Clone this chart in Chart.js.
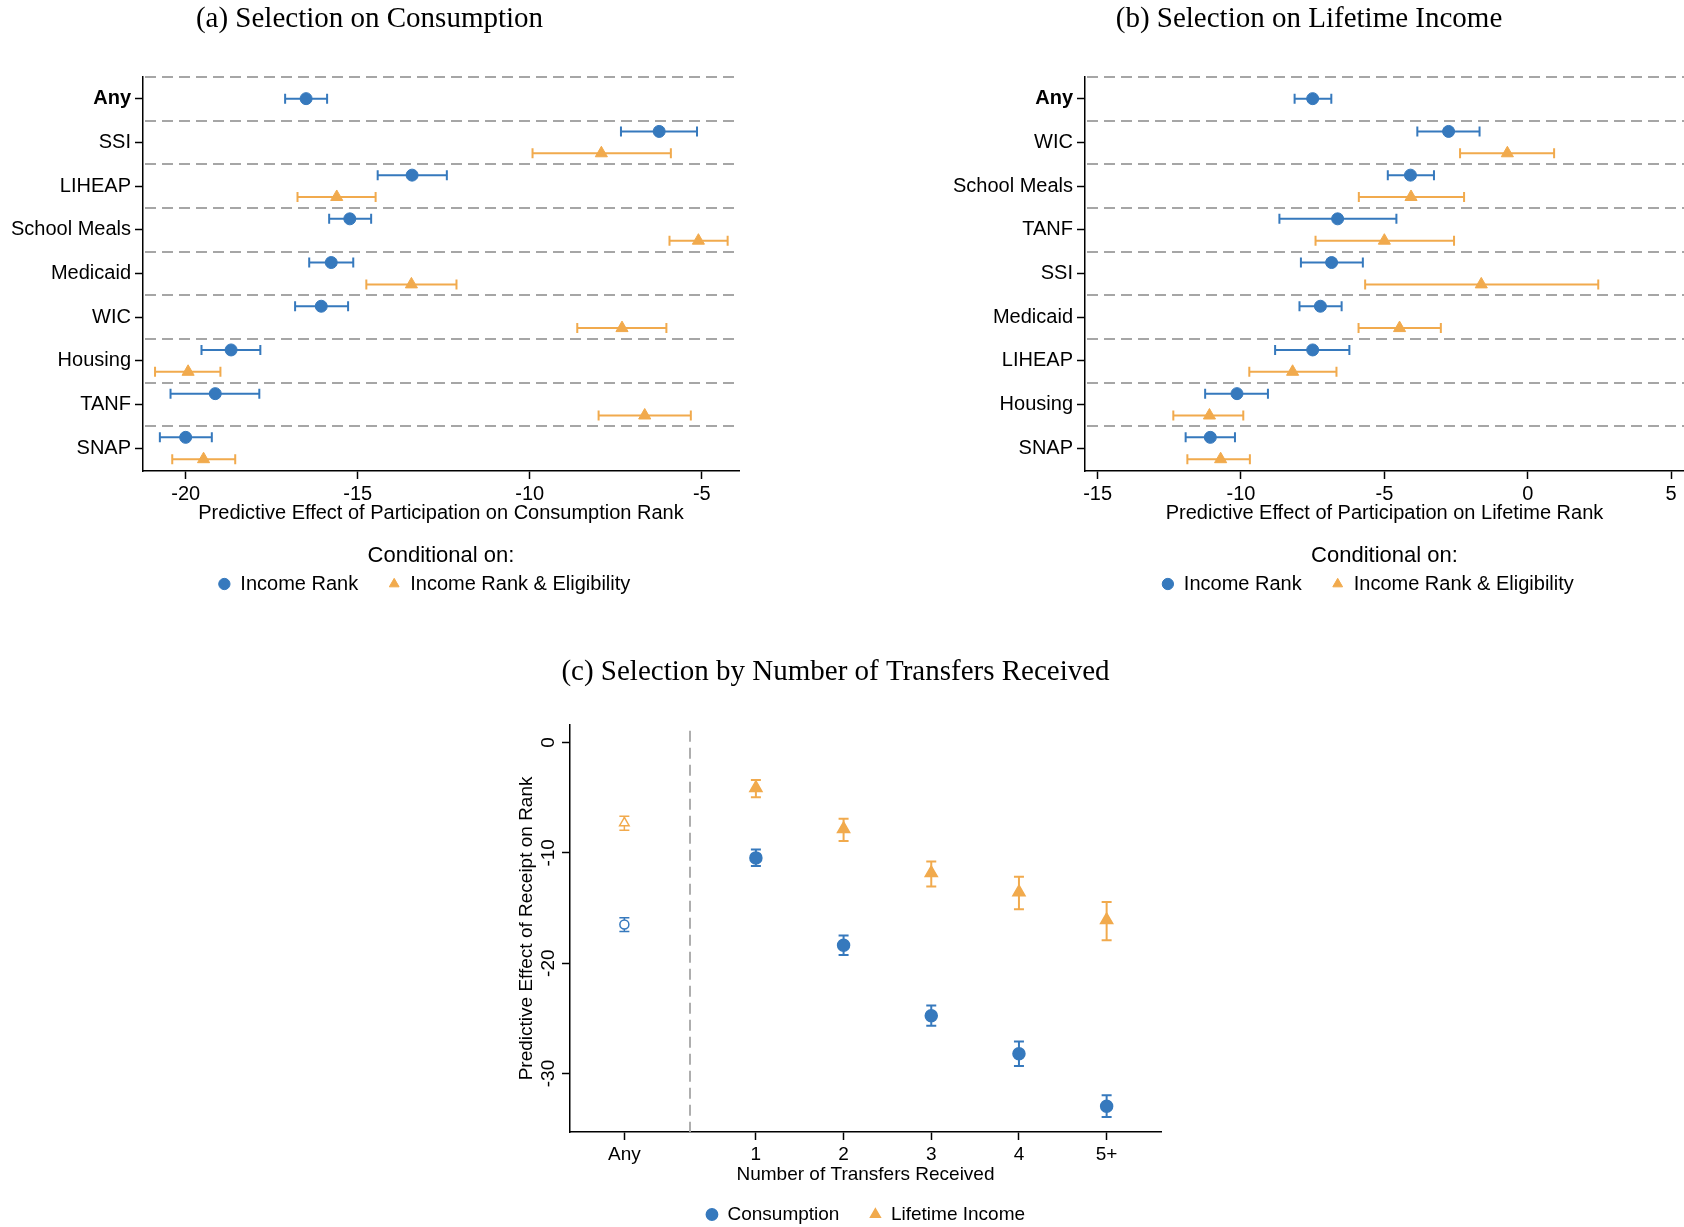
<!DOCTYPE html>
<html>
<head>
<meta charset="utf-8">
<script src="https://cdn.jsdelivr.net/npm/chart.js@4.4.0/dist/chart.umd.min.js"></script>
<style>
  body { margin: 0; background: #fff; width: 1684px; height: 1227px; position: relative; overflow: hidden; }
  canvas { position: absolute; }
</style>
</head>
<body>
<canvas id="chartA" width="745" height="612" style="left:0px;top:0px"></canvas>
<canvas id="chartB" width="750" height="612" style="left:934px;top:0px"></canvas>
<canvas id="chartC" width="662" height="590" style="left:510px;top:650px"></canvas>
<script>
// panel (a): selection on consumption
const catsA = ['Any', 'SSI', 'LIHEAP', 'School Meals', 'Medicaid', 'WIC', 'Housing', 'TANF', 'SNAP'];
const incA   = [-16.5, -6.24, -13.42, -15.23, -15.77, -16.06, -18.68, -19.14, -20.0];
const incALo = [-17.11, -7.35, -14.42, -15.83, -16.41, -16.82, -19.54, -20.44, -20.75];
const incAHi = [-15.89, -5.14, -12.41, -14.61, -15.13, -15.28, -17.83, -17.86, -19.24];
const eligA   = [null, -7.92, -15.61, -5.1, -13.44, -7.32, -19.93, -6.66, -19.48];
const eligALo = [null, -9.92, -16.75, -5.94, -14.75, -8.62, -20.89, -8.0, -20.39];
const eligAHi = [null, -5.9, -14.48, -4.25, -12.13, -6.03, -18.99, -5.32, -18.56];
const xTicksA = [-20, -15, -10, -5];

// panel (b): selection on lifetime income
const catsB = ['Any', 'WIC', 'School Meals', 'TANF', 'SSI', 'Medicaid', 'LIHEAP', 'Housing', 'SNAP'];
const incB   = [-7.5, -2.76, -4.09, -6.63, -6.84, -7.23, -7.5, -10.14, -11.07];
const incBLo = [-8.13, -3.85, -4.88, -8.66, -7.91, -7.96, -8.81, -11.25, -11.93];
const incBHi = [-6.85, -1.68, -3.27, -4.58, -5.75, -6.49, -6.22, -9.06, -10.21];
const eligB   = [null, -0.71, -4.07, -5.0, -1.62, -4.47, -8.2, -11.1, -10.71];
const eligBLo = [null, -2.36, -5.89, -7.4, -5.67, -5.9, -9.71, -12.36, -11.87];
const eligBHi = [null, 0.92, -2.22, -2.57, 2.46, -3.03, -6.67, -9.92, -9.69];
const xTicksB = [-15, -10, -5, 0, 5];

// panel (c): number of transfers received
const catsC = ['Any', '1', '2', '3', '4', '5+'];
const consC   = [-16.49, -10.46, -18.38, -24.76, -28.2, -32.96];
const consCLo = [-17.13, -11.19, -19.27, -25.67, -29.33, -33.93];
const consCHi = [-15.88, -9.7, -17.5, -23.84, -27.1, -31.98];
const lifeC   = [-7.29, -4.12, -7.84, -11.83, -13.57, -16.1];
const lifeCLo = [-7.96, -4.97, -8.93, -13.05, -15.12, -17.93];
const lifeCHi = [-6.68, -3.41, -6.92, -10.79, -12.16, -14.45];
const yTicksC = [0, -10, -20, -30];

const blue = '#3679bd';
const orange = '#f1aa4d';
const dashGray = '#a6a6a6';
const sans = "'Liberation Sans', Arial, Helvetica, sans-serif";
const serif = "'Liberation Serif', 'Times New Roman', serif";

// row position of each category, top row first
const rowOf = (cats, i) => cats.length - 1 - i;

// build horizontal points: shift up/down a bit when a row has two series
function rowPoints(cats, vals, lo, hi, other, shift) {
  const pts = [];
  vals.forEach((v, i) => {
    if (v == null) return;
    const both = other[i] != null;
    pts.push({ x: v, y: rowOf(cats, i) + (both ? shift : 0), lo: lo[i], hi: hi[i] });
  });
  return pts;
}

// error bars, drawn under the markers
const errorBars = {
  id: 'errorBars',
  beforeDatasetsDraw(chart, args, opts) {
    const ctx = chart.ctx;
    const xs = chart.scales.x, ys = chart.scales.y;
    const cap = 5;
    chart.data.datasets.forEach(ds => {
      ctx.save();
      ctx.strokeStyle = ds.borderColor;
      ds.data.forEach((p, i) => {
        ctx.lineWidth = (opts.thinFirst && i === 0) ? 1.5 : 2;
        ctx.beginPath();
        if (opts.vertical) {
          const x = xs.getPixelForValue(p.x);
          const y1 = ys.getPixelForValue(p.lo), y2 = ys.getPixelForValue(p.hi);
          ctx.moveTo(x, y1); ctx.lineTo(x, y2);
          ctx.moveTo(x - cap, y1); ctx.lineTo(x + cap, y1);
          ctx.moveTo(x - cap, y2); ctx.lineTo(x + cap, y2);
        } else {
          const y = ys.getPixelForValue(p.y);
          const x1 = xs.getPixelForValue(p.lo), x2 = xs.getPixelForValue(p.hi);
          ctx.moveTo(x1, y); ctx.lineTo(x2, y);
          ctx.moveTo(x1, y - cap); ctx.lineTo(x1, y + cap);
          ctx.moveTo(x2, y - cap); ctx.lineTo(x2, y + cap);
        }
        ctx.stroke();
      });
      ctx.restore();
    });
  }
};

// dashed separators between program rows
const rowLines = {
  id: 'rowLines',
  beforeDatasetsDraw(chart, args, opts) {
    if (!opts.rows) return;
    const {ctx, chartArea} = chart;
    const ys = chart.scales.y;
    ctx.save();
    ctx.strokeStyle = dashGray;
    ctx.lineWidth = 1.8;
    ctx.setLineDash([11, 6]);
    for (let k = 0; k < opts.rows; k++) {
      const y = Math.round(ys.getPixelForValue(k + 0.5));
      ctx.beginPath();
      ctx.moveTo(chartArea.left + 2, y);
      ctx.lineTo(chartArea.right, y);
      ctx.stroke();
    }
    ctx.restore();
  }
};

// trailing room on the last key so the keys sit a bit left of the title, as in the original
const keyLabels = chart => Chart.defaults.plugins.legend.labels.generateLabels(chart).map((item, i, all) => {
  const ds = chart.data.datasets[i];
  item.fillStyle = ds.backgroundColor;
  item.strokeStyle = ds.borderColor;
  if (chart.options.plugins.legend.tailSpace && i === all.length - 1) item.text += '      ';
  return item;
});

function rowChart(id, title, cats, inc, incLo, incHi, elig, eligLo, eligHi, xTicks, xMin, xMax, xTitle, yWidth, padRight) {
  new Chart(document.getElementById(id), {
    type: 'scatter',
    data: {
      datasets: [
        {
          label: 'Income Rank',
          data: rowPoints(cats, inc, incLo, incHi, elig, 0.25),
          pointStyle: 'circle', pointRadius: 6,
          backgroundColor: blue, borderColor: blue, pointBorderWidth: 1
        },
        {
          label: 'Income Rank & Eligibility',
          data: rowPoints(cats, elig, eligLo, eligHi, inc, -0.25),
          pointStyle: 'triangle', pointRadius: 7,
          backgroundColor: orange, borderColor: orange, pointBorderWidth: 1
        }
      ]
    },
    options: {
      responsive: false,
      animation: false,
      events: [],
      layout: { autoPadding: false, padding: { left: 0, right: padRight, top: 0, bottom: 8 } },
      scales: {
        x: {
          type: 'linear', min: xMin, max: xMax,
          afterBuildTicks: s => { s.ticks = xTicks.map(v => ({ value: v })); },
          afterFit: s => { s.height = 54; },
          ticks: { color: '#000', font: { family: sans, size: 20 }, padding: 3, callback: v => String(v) },
          grid: { drawOnChartArea: false, tickLength: 8, tickColor: '#000', tickWidth: 1.5 },
          border: { color: '#000', width: 1.5 },
          title: { display: true, text: xTitle, color: '#000', font: { family: sans, size: 20 }, padding: { top: 0, bottom: 0 } }
        },
        y: {
          type: 'linear', min: -0.52, max: cats.length - 0.5,
          afterBuildTicks: s => { s.ticks = cats.map((c, i) => ({ value: rowOf(cats, i) })); },
          afterFit: s => { s.width = yWidth; },
          ticks: {
            color: '#000', padding: 4,
            font: c => ({ family: sans, size: 20, weight: (c.tick && c.tick.value === cats.length - 1) ? 'bold' : 'normal' }),
            callback: v => cats[rowOf(cats, v)]
          },
          grid: { drawOnChartArea: false, tickLength: 8, tickColor: '#000', tickWidth: 1.5 },
          border: { color: '#000', width: 1.5 }
        }
      },
      plugins: {
        title: { display: true, text: title, color: '#000', font: { family: serif, size: 29, weight: 'normal' }, padding: { top: 2, bottom: 40 } },
        legend: {
          position: 'bottom', fullSize: false, tailSpace: true,
          title: { display: true, text: 'Conditional on:', color: '#000', font: { family: sans, size: 22 }, padding: { top: 20, bottom: -27.4 } },
          labels: { usePointStyle: true, boxHeight: 8, boxWidth: 12, padding: 30, color: '#000', font: { family: sans, size: 20 }, generateLabels: keyLabels }
        },
        tooltip: { enabled: false },
        rowLines: { rows: cats.length },
        errorBars: { vertical: false }
      }
    },
    plugins: [rowLines, errorBars]
  });
}

rowChart('chartA', '(a) Selection on Consumption', catsA, incA, incALo, incAHi, eligA, eligALo, eligAHi,
  xTicksA, -21.24, -3.92, 'Predictive Effect of Participation on Consumption Rank', 143, 6);
rowChart('chartB', '(b) Selection on Lifetime Income', catsB, incB, incBLo, incBHi, eligB, eligBLo, eligBHi,
  xTicksB, -15.44, 5.45, 'Predictive Effect of Participation on Lifetime Rank', 151, 0);

// panel (c)
const colOf = i => (i === 0 ? 0 : i + 0.5);   // leave a gap after "Any"
const colPoints = (vals, lo, hi) => vals.map((v, i) => ({ x: colOf(i), y: v, lo: lo[i], hi: hi[i] }));

const anyDivider = {
  id: 'anyDivider',
  beforeDatasetsDraw(chart) {
    const {ctx, chartArea} = chart;
    const x = Math.round(chart.scales.x.getPixelForValue((colOf(0) + colOf(1)) / 2));
    ctx.save();
    ctx.strokeStyle = dashGray;
    ctx.lineWidth = 1.8;
    ctx.setLineDash([11, 6]);
    ctx.beginPath();
    ctx.moveTo(x, chartArea.top + 6);
    ctx.lineTo(x, chartArea.bottom);
    ctx.stroke();
    ctx.restore();
  }
};

// y tick labels turned on their side, as in the original
const sideTicks = {
  id: 'sideTicks',
  afterDraw(chart) {
    const {ctx, chartArea} = chart;
    const ys = chart.scales.y;
    ctx.save();
    ctx.fillStyle = '#000';
    ctx.font = '19px ' + sans;
    ctx.textAlign = 'center';
    ctx.textBaseline = 'middle';
    yTicksC.forEach(v => {
      ctx.save();
      ctx.translate(chartArea.left - 21, ys.getPixelForValue(v));
      ctx.rotate(-Math.PI / 2);
      ctx.fillText(String(v), 0, 0);
      ctx.restore();
    });
    ctx.restore();
  }
};

new Chart(document.getElementById('chartC'), {
  type: 'scatter',
  data: {
    datasets: [
      {
        label: 'Consumption',
        data: colPoints(consC, consCLo, consCHi),
        pointStyle: 'circle',
        pointRadius: c => (c.dataIndex === 0 ? 4.5 : 6),
        backgroundColor: blue, borderColor: blue,
        pointBackgroundColor: c => (c.dataIndex === 0 ? '#fff' : blue),
        pointBorderWidth: 1.5
      },
      {
        label: 'Lifetime Income',
        data: colPoints(lifeC, lifeCLo, lifeCHi),
        pointStyle: 'triangle',
        pointRadius: c => (c.dataIndex === 0 ? 5.5 : 7),
        backgroundColor: orange, borderColor: orange,
        pointBackgroundColor: c => (c.dataIndex === 0 ? '#fff' : orange),
        pointBorderWidth: 1.5
      }
    ]
  },
  options: {
    responsive: false,
    animation: false,
    events: [],
    layout: { autoPadding: false, padding: { left: 0, right: 11, top: 0, bottom: 6 } },
    scales: {
      x: {
        type: 'linear', min: -0.62, max: colOf(catsC.length - 1) + 0.62,
        afterBuildTicks: s => { s.ticks = catsC.map((c, i) => ({ value: colOf(i) })); },
        afterFit: s => { s.height = 43; },
        ticks: { color: '#000', font: { family: sans, size: 19 }, padding: 3,
          callback: (v, i) => catsC[i] },
        grid: { drawOnChartArea: false, tickLength: 8, tickColor: '#000', tickWidth: 1.5 },
        border: { color: '#000', width: 1.5 },
        title: { display: true, text: 'Number of Transfers Received', color: '#000', font: { family: sans, size: 19 }, padding: { top: 0, bottom: -11.4 } }
      },
      y: {
        type: 'linear', min: -35.3, max: 1.6,
        afterBuildTicks: s => { s.ticks = yTicksC.map(v => ({ value: v })); },
        afterFit: s => { s.width = 60; },
        ticks: { display: false },
        grid: { drawOnChartArea: false, tickLength: 8, tickColor: '#000', tickWidth: 1.5 },
        border: { color: '#000', width: 1.5 },
        title: { display: true, text: 'Predictive Effect of Receipt on Rank', color: '#000', font: { family: sans, size: 19 }, padding: { top: 5, bottom: 25 } }
      }
    },
    plugins: {
      title: { display: true, text: '(c) Selection by Number of Transfers Received', color: '#000', font: { family: serif, size: 29, weight: 'normal' }, padding: { top: 5, bottom: 35 } },
      legend: {
        position: 'bottom', fullSize: false,
        labels: { usePointStyle: true, boxHeight: 8, boxWidth: 12, padding: 30, color: '#000', font: { family: sans, size: 19 }, generateLabels: keyLabels }
      },
      tooltip: { enabled: false },
      errorBars: { vertical: true, thinFirst: true }
    }
  },
  plugins: [anyDivider, errorBars, sideTicks]
});
</script>
</body>
</html>
